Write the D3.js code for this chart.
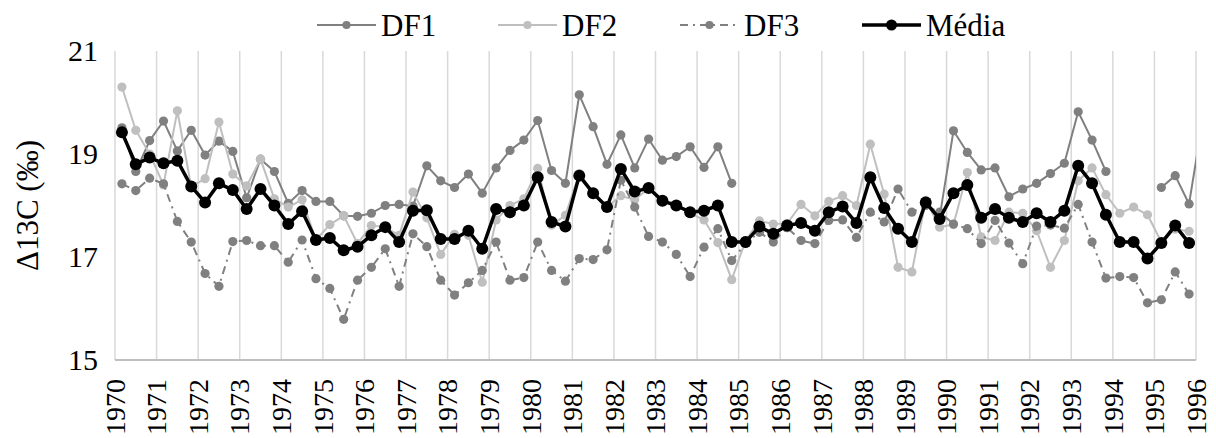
<!DOCTYPE html>
<html>
<head>
<meta charset="utf-8">
<title>Δ13C DF1 DF2 DF3 Média</title>
<script src="https://d3js.org/d3.v7.min.js"></script>
<style>
    body { margin: 0; background: #fff; }
    text { font-family: "Liberation Serif", "Tinos", "DejaVu Serif", serif; fill: #000; }
    .grid line { stroke: #d9d9d9; stroke-width: 1.5px; }
</style>
</head>
<body>
<div id="chart"></div>
<script>
// first year and number of samples per year (every 4 months)
const startYear = 1970;
const perYear = 3;
const yearTicks = d3.range(1970, 1997);
const yTicks = [15, 17, 19, 21];

const df1 = [19.51, 18.66, 19.26, 19.64, 19.06, 19.46, 18.98, 19.25, 19.05, 18.15,
    18.90, 18.66, 18.04, 18.29, 18.08, 18.08, 17.80, 17.79, 17.85, 18.00,
    18.02, 17.99, 18.77, 18.48, 18.35, 18.61, 18.24, 18.73, 19.07, 19.27,
    19.65, 18.68, 18.43, 20.15, 19.53, 18.80, 19.37, 18.73, 19.29, 18.88,
    18.95, 19.14, 18.74, 19.14, 18.43, null, null, null, null, null,
    null, null, null, null, null, null, null, null, null, 17.77,
    19.45, 19.03, 18.69, 18.73, 18.17, 18.32, 18.43, 18.62, 18.82, 19.82,
    19.27, 18.66, null, null, null, 18.35, 18.58, 18.03, 19.70];

const df2 = [20.30, 19.46, 19.00, 18.40, 19.84, 18.36, 18.52, 19.62, 18.61, 18.38,
    18.90, 18.13, 17.97, 18.11, 17.33, 17.63, 17.80, 17.26, 17.61, 17.58,
    17.42, 18.26, 17.76, 17.05, 17.44, 17.42, 16.51, 17.72, 18.00, 18.13,
    18.72, 17.62, 17.81, 18.62, 18.24, 17.97, 18.19, 18.11, 18.33, 18.10,
    18.00, 17.85, 17.72, 17.28, 16.56, 17.32, 17.70, 17.64, 17.65, 18.02,
    17.80, 18.08, 18.19, 18.00, 19.19, 18.22, 16.80, 16.71, 18.10, 17.58,
    17.63, 18.64, 17.39, 17.32, 17.87, 17.85, 17.51, 16.80, 17.32, 18.48,
    18.73, 18.21, 17.85, 17.97, 17.82, 17.29, 17.54, 17.50];

const df3 = [18.42, 18.29, 18.53, 18.42, 17.69, 17.29, 16.68, 16.43, 17.30, 17.32,
    17.22, 17.22, 16.90, 17.33, 16.58, 16.39, 15.79, 16.55, 16.80, 17.16,
    16.43, 17.45, 17.20, 16.55, 16.26, 16.50, 16.74, 17.29, 16.55, 16.60,
    17.29, 16.74, 16.53, 16.97, 16.95, 17.14, 18.49, 17.97, 17.40, 17.29,
    17.05, 16.62, 17.19, 17.55, 16.93, 17.26, 17.48, 17.29, 17.57, 17.32,
    17.26, 17.71, 17.72, 17.38, 17.87, 17.68, 18.32, 17.87, 18.00, 17.87,
    17.64, 17.55, 17.26, 17.71, 17.27, 16.87, 17.60, 17.62, 17.56, 18.02,
    17.29, 16.59, 16.62, 16.60, 16.11, 16.17, 16.71, 16.28];

const media = [19.42, 18.80, 18.93, 18.82, 18.87, 18.37, 18.06, 18.43, 18.30, 17.93,
    18.32, 18.00, 17.64, 17.89, 17.33, 17.37, 17.13, 17.20, 17.42, 17.58,
    17.29, 17.90, 17.91, 17.35, 17.35, 17.51, 17.16, 17.93, 17.87, 18.00,
    18.55, 17.68, 17.59, 18.58, 18.24, 17.97, 18.71, 18.27, 18.34, 18.09,
    18.00, 17.87, 17.90, 18.00, 17.29, 17.29, 17.59, 17.45, 17.61, 17.66,
    17.51, 17.87, 17.98, 17.66, 18.55, 17.95, 17.55, 17.29, 18.06, 17.74,
    18.24, 18.40, 17.76, 17.93, 17.76, 17.68, 17.85, 17.68, 17.90, 18.77,
    18.43, 17.82, 17.29, 17.29, 16.97, 17.27, 17.61, 17.27];

const series = [
    { name: "DF1", values: df1, color: "#808080", width: 2, r: 4.6, dash: null },
    { name: "DF2", values: df2, color: "#bfbfbf", width: 2, r: 4.6, dash: null },
    { name: "DF3", values: df3, color: "#808080", width: 2, r: 4.6, dash: "8,5,2,5" },
    { name: "Média", values: media, color: "#000000", width: 3.5, r: 6, dash: null }
];

const width = 1216, height = 438;
const margin = { top: 51, right: 20, bottom: 78, left: 115 };
const fontStack = '"Liberation Serif", "Tinos", "DejaVu Serif", serif';

const svg = d3.select("#chart").append("svg")
    .attr("width", width)
    .attr("height", height);

const x = d3.scaleLinear()
    .domain([1970, 1996])
    .range([margin.left, 1196]);

const y = d3.scaleLinear()
    .domain([15, 21])
    .range([height - margin.bottom, margin.top]);

const xOf = i => x(startYear + (i + 0.5) / perYear);

// vertical gridlines, one per year
svg.append("g")
    .attr("class", "grid")
    .selectAll("line")
    .data(yearTicks)
    .join("line")
    .attr("x1", d => x(d)).attr("x2", d => x(d))
    .attr("y1", y(21)).attr("y2", y(15));

// bottom axis line
svg.append("line")
    .attr("x1", x(1970)).attr("x2", x(1996))
    .attr("y1", y(15)).attr("y2", y(15))
    .attr("stroke", "#bfbfbf")
    .attr("stroke-width", 2);

// x axis labels (rotated)
const xAxis = d3.axisBottom(x)
    .tickValues(yearTicks)
    .tickFormat(d3.format("d"))
    .tickSize(0);
const gx = svg.append("g")
    .attr("transform", `translate(0,${y(15)})`)
    .attr("font-family", fontStack)
    .call(xAxis);
gx.select(".domain").remove();
gx.selectAll("text")
    .style("font-family", fontStack)
    .attr("font-size", 28)
    .attr("fill", "#000")
    .attr("transform", "rotate(-90)")
    .attr("text-anchor", "end")
    .attr("x", -19)
    .attr("y", 0)
    .attr("dy", "0.33em");

// y axis labels
const yAxis = d3.axisLeft(y)
    .tickValues(yTicks)
    .tickFormat(d3.format("d"))
    .tickSize(0)
    .tickPadding(17);
const gy = svg.append("g")
    .attr("transform", `translate(${margin.left},0)`)
    .attr("font-family", fontStack)
    .call(yAxis);
gy.select(".domain").remove();
gy.selectAll("text")
    .style("font-family", fontStack)
    .attr("font-size", 30)
    .attr("fill", "#000");

// y axis title
svg.append("text")
    .attr("transform", `translate(38,${(y(15) + y(21)) / 2}) rotate(-90)`)
    .attr("text-anchor", "middle")
    .style("font-family", fontStack)
    .attr("font-size", 31)
    .text("Δ13C (‰)");

// clip lines to the plot area
svg.append("defs").append("clipPath")
    .attr("id", "plot-clip")
    .append("rect")
    .attr("x", x(1970))
    .attr("y", 0)
    .attr("width", x(1996) - x(1970))
    .attr("height", height);

const plot = svg.append("g").attr("clip-path", "url(#plot-clip)");

const line = d3.line()
    .defined(d => d != null)
    .x((d, i) => xOf(i))
    .y(d => y(d));

series.forEach(s => {
    const g = plot.append("g");
    g.append("path")
        .datum(s.values)
        .attr("fill", "none")
        .attr("stroke", s.color)
        .attr("stroke-width", s.width)
        .attr("stroke-dasharray", s.dash)
        .attr("stroke-linejoin", "round")
        .attr("d", line);
    g.selectAll("circle")
        .data(s.values.map((v, i) => ({ v, i })).filter(d => d.v != null))
        .join("circle")
        .attr("cx", d => xOf(d.i))
        .attr("cy", d => y(d.v))
        .attr("r", s.r)
        .attr("fill", s.color);
});

// legend
const legendX = [317, 498, 680, 862];
const legend = svg.append("g").attr("transform", "translate(0,25)");
series.forEach((s, k) => {
    const lg = legend.append("g").attr("transform", `translate(${legendX[k]},0)`);
    lg.append("line")
        .attr("x1", 0).attr("x2", 59)
        .attr("y1", 0).attr("y2", 0)
        .attr("stroke", s.color)
        .attr("stroke-width", s.width)
        .attr("stroke-dasharray", s.dash);
    lg.append("circle")
        .attr("cx", 29.5).attr("cy", 0)
        .attr("r", s.r - 0.5)
        .attr("fill", s.color);
    lg.append("text")
        .attr("x", 64)
        .attr("y", 0)
        .attr("dy", "0.35em")
        .style("font-family", fontStack)
        .attr("font-size", 31)
        .text(s.name);
});
</script>
</body>
</html>
